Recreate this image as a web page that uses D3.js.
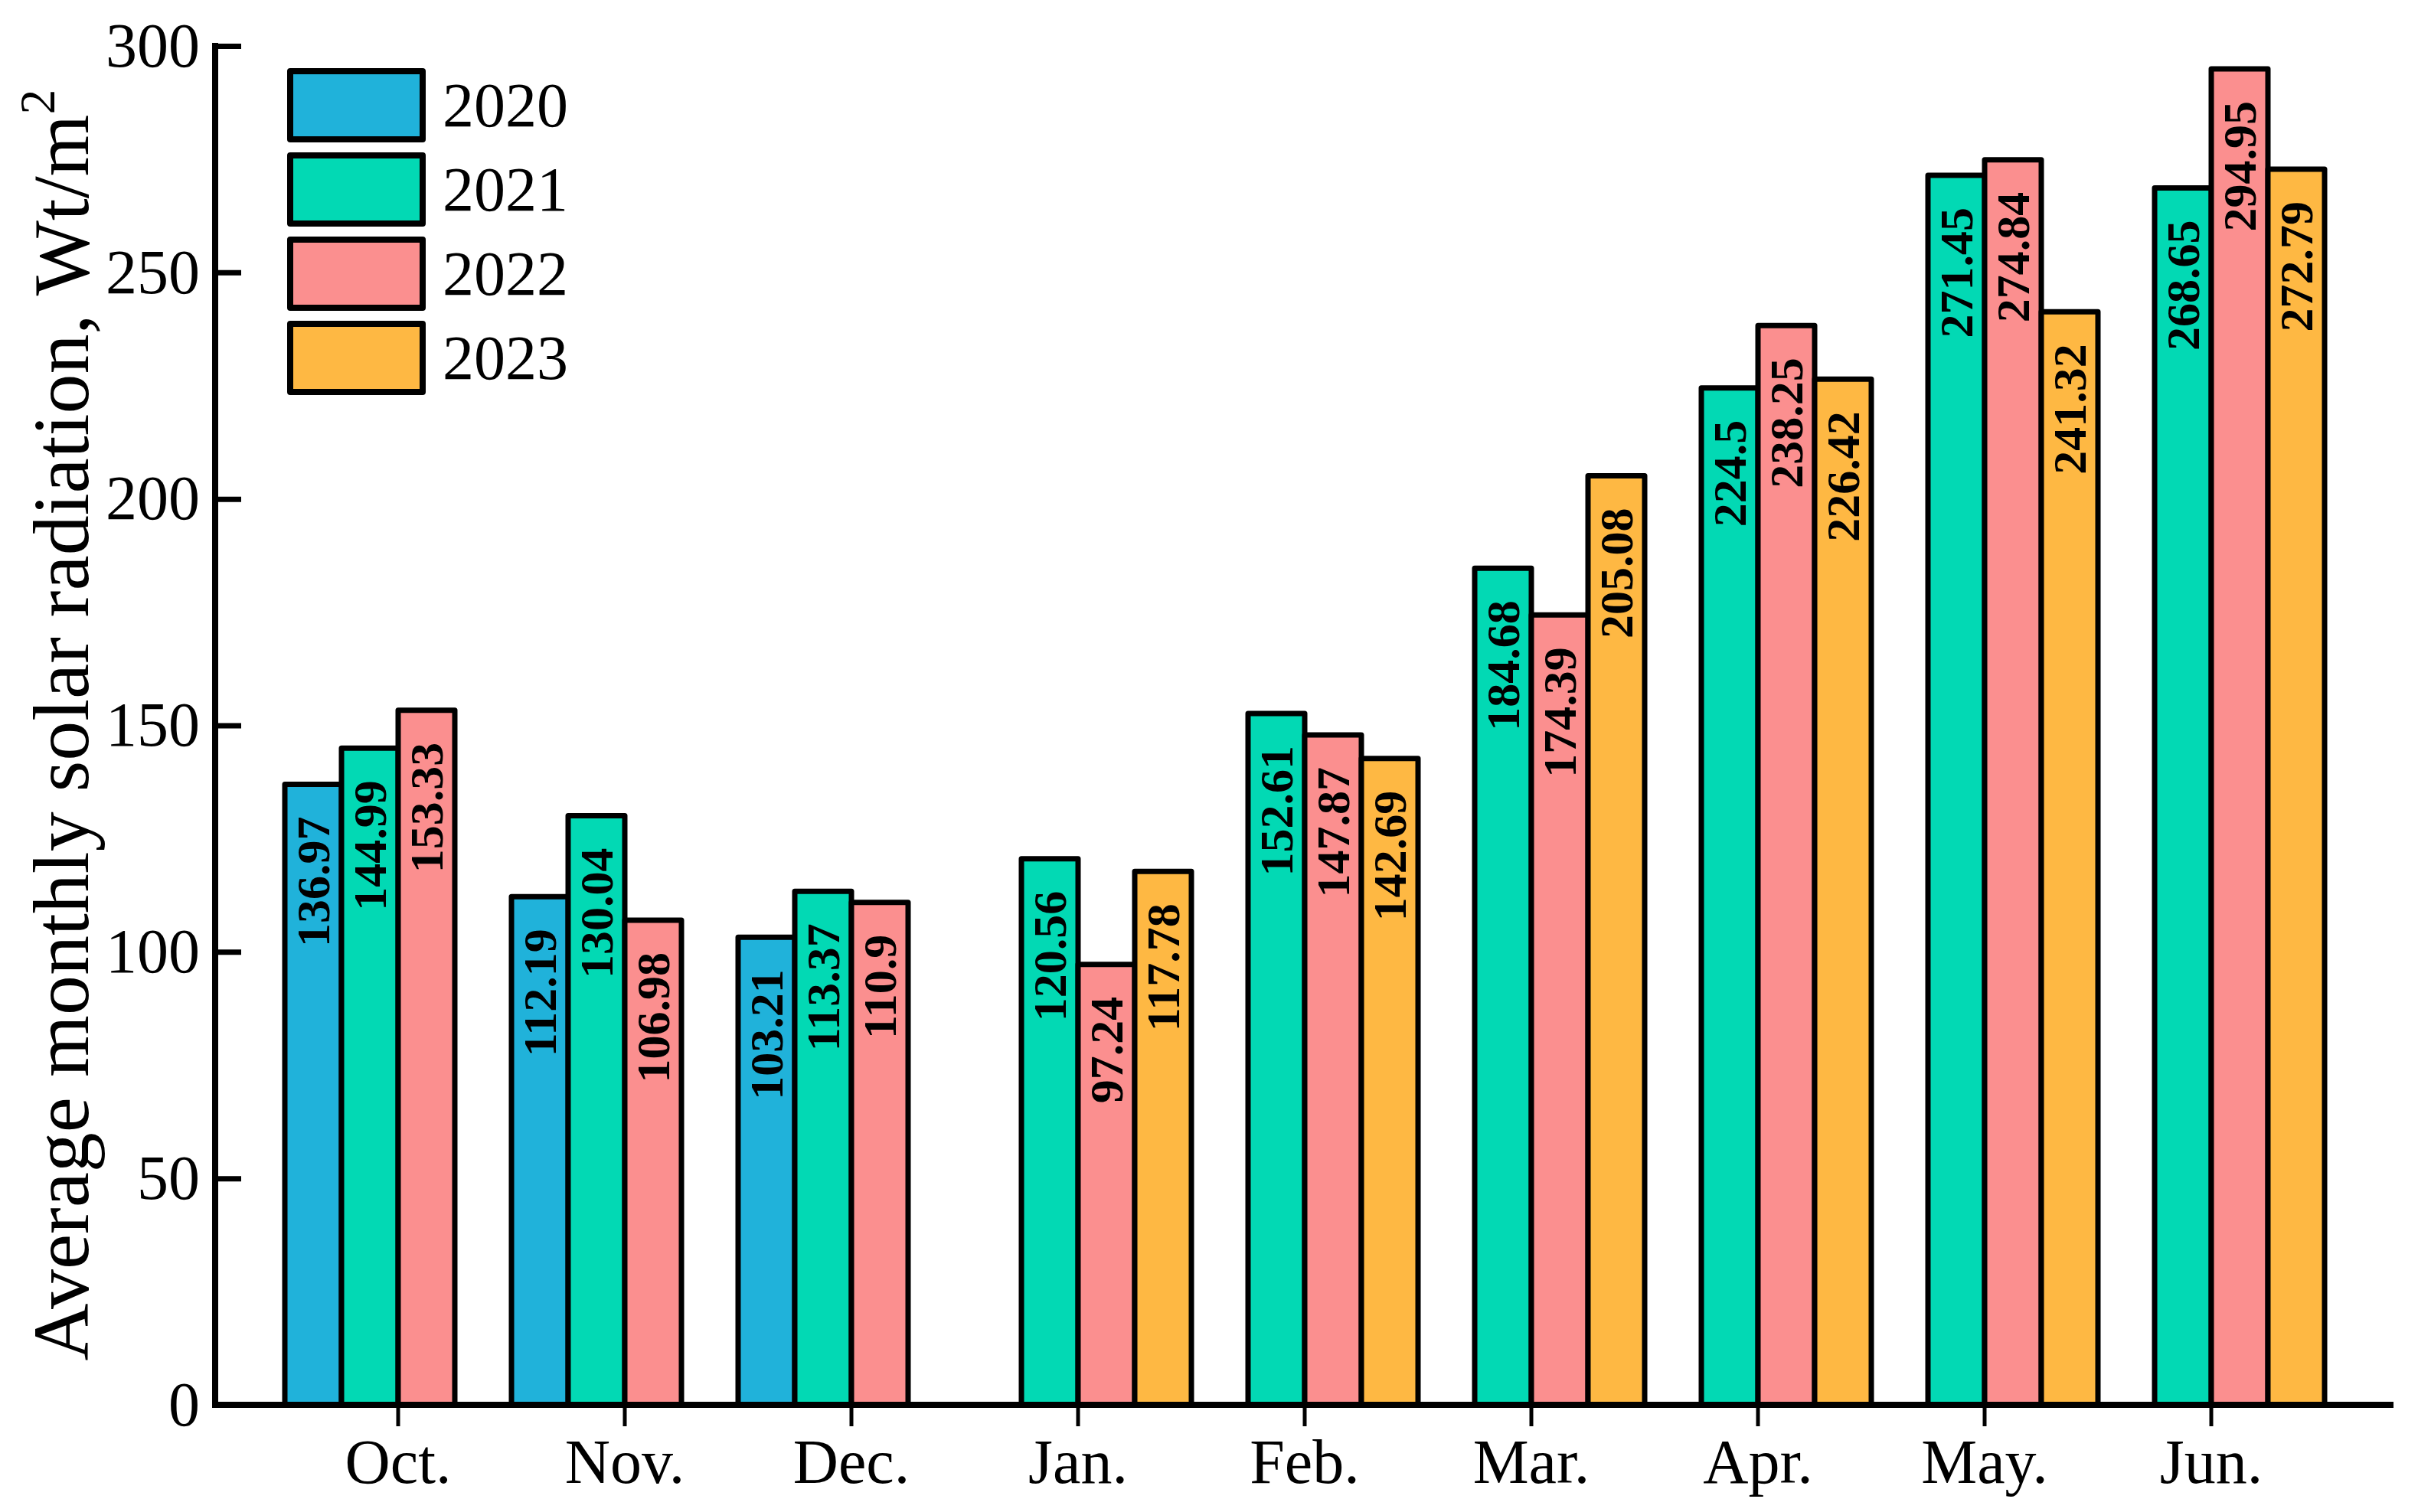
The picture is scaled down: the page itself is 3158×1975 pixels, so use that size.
<!DOCTYPE html>
<html>
<head>
<meta charset="utf-8">
<script src="https://cdn.jsdelivr.net/npm/d3@7"></script>
<style>
  html, body { margin: 0; padding: 0; background: #fff; }
  svg { display: block; }
  svg text { font-family: "Times New Roman", Times, "Liberation Serif", Tinos, "Nimbus Roman", "DejaVu Serif", serif !important; }
</style>
</head>
<body>
<svg id="chart" width="3158" height="1975"></svg>
<script>
const months = ["Oct.", "Nov.", "Dec.", "Jan.", "Feb.", "Mar.", "Apr.", "May.", "Jun."];
const years = ["2020", "2021", "2022", "2023"];
const values2020 = [136.97, 112.19, 103.21, null, null, null, null, null, null];
const values2021 = [144.99, 130.04, 113.37, 120.56, 152.61, 184.68, 224.5, 271.45, 268.65];
const values2022 = [153.33, 106.98, 110.9, 97.24, 147.87, 174.39, 238.25, 274.84, 294.95];
const values2023 = [null, null, null, 117.78, 142.69, 205.08, 226.42, 241.32, 272.79];
const yTicks = [0, 50, 100, 150, 200, 250, 300];
const colors = ["#20b2da", "#02d9b4", "#fb8f8f", "#feb843"];
const yTitle = "Average monthly solar radiation, Wt/m";

const seriesValues = [values2020, values2021, values2022, values2023];

const svg = d3.select("#chart");
const axisX = 281, axisRight = 3126;
const y = d3.scaleLinear().domain([0, 300]).range([1835, 60]);
const x0 = d3.scaleBand().domain(months).range([372, 372 + 296 * 9]).paddingInner(0).paddingOuter(0);
const x1 = d3.scaleBand().domain(years).range([0, x0.bandwidth()]).padding(0);
const color = d3.scaleOrdinal().domain(years).range(colors);

const data = [];
years.forEach((yr, si) => {
  months.forEach((m, mi) => {
    const v = seriesValues[si][mi];
    if (v !== null) data.push({ year: yr, month: m, value: v });
  });
});

// bars
const barStroke = 7;
svg.append("g").selectAll("rect").data(data).join("rect")
  .attr("x", d => x0(d.month) + x1(d.year))
  .attr("y", d => y(d.value))
  .attr("width", x1.bandwidth())
  .attr("height", d => y(0) - y(d.value))
  .attr("fill", d => color(d.year))
  .attr("stroke", "#000")
  .attr("stroke-width", barStroke)
  .attr("stroke-linejoin", "round");

// value labels
svg.append("g").selectAll("text").data(data).join("text")
  .attr("transform", d => {
    const cx = x0(d.month) + x1(d.year) + x1.bandwidth() / 2;
    const ty = y(d.value) + 42;
    return `translate(${cx},${ty}) rotate(-90)`;
  })
  .attr("text-anchor", "end")
  .attr("dominant-baseline", "central")
  .attr("font-size", 62)
  .attr("font-weight", "bold")
  .attr("fill", "#000")
  .text(d => d.value);

// y axis
const yAxis = d3.axisLeft(y).tickValues(yTicks).tickSizeInner(-34).tickSizeOuter(0).tickPadding(20);
const gy = svg.append("g").attr("transform", `translate(${axisX},0)`).call(yAxis);
gy.attr("font-family", null);
gy.select(".domain").remove();
gy.selectAll(".tick line").attr("stroke", "#000").attr("stroke-width", 7);
gy.selectAll(".tick text").attr("font-size", 82).attr("fill", "#000");

// x axis
const xAxis = d3.axisBottom(x0).tickSizeInner(28).tickSizeOuter(0).tickPadding(0);
const gx = svg.append("g").attr("transform", `translate(0,${y(0)})`).call(xAxis);
gx.attr("font-family", null);
gx.select(".domain").remove();
gx.selectAll(".tick line").attr("stroke", "#000").attr("stroke-width", 5);
gx.selectAll(".tick text").attr("font-size", 82).attr("fill", "#000")
  .attr("y", 102).attr("dy", null);

// axis lines
svg.append("line").attr("x1", axisX).attr("x2", axisX).attr("y1", y(300) - 4).attr("y2", y(0) + 4)
  .attr("stroke", "#000").attr("stroke-width", 8);
svg.append("line").attr("x1", axisX - 4).attr("x2", axisRight).attr("y1", y(0)).attr("y2", y(0))
  .attr("stroke", "#000").attr("stroke-width", 8);

// y title
const title = svg.append("text")
  .attr("transform", `translate(115,947) rotate(-90)`)
  .attr("text-anchor", "middle")
  .attr("font-size", 104)
  .attr("fill", "#000");
title.append("tspan").text(yTitle);
title.append("tspan").attr("font-size", 66).attr("dy", -44).text("2");

// legend
const legend = svg.append("g");
years.forEach((yr, i) => {
  const top = 93 + i * 110;
  legend.append("rect")
    .attr("x", 379).attr("y", top).attr("width", 173).attr("height", 89)
    .attr("fill", color(yr)).attr("stroke", "#000").attr("stroke-width", 8)
    .attr("stroke-linejoin", "round");
  legend.append("text")
    .attr("x", 578).attr("y", top + 44.5)
    .attr("dominant-baseline", "central")
    .attr("font-size", 82).attr("fill", "#000")
    .text(yr);
});
</script>
</body>
</html>
